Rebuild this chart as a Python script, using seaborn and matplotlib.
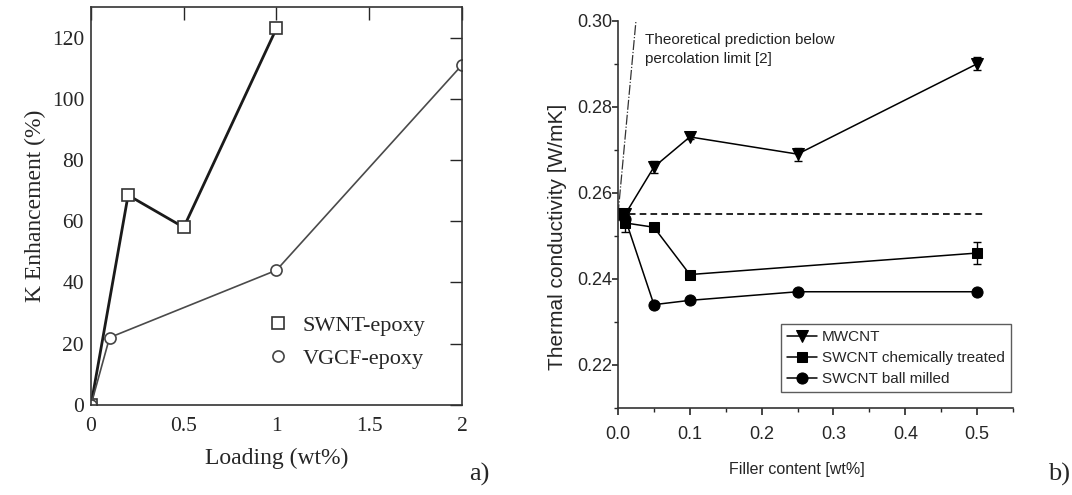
import numpy as np
import matplotlib
matplotlib.use("Agg")
import matplotlib.pyplot as plt
from matplotlib.lines import Line2D
from matplotlib.ticker import MultipleLocator
import seaborn as sns

# panel a) K enhancement vs loading
swnt_x = [0, 0.2, 0.5, 1.0]
swnt_y = [0, 68.5, 58, 123]
vgcf_x = [0, 0.1, 1.0, 2.0]
vgcf_y = [0, 22, 44, 111]

# panel b) thermal conductivity vs filler content
mw_x = [0, 0.01, 0.05, 0.1, 0.25, 0.5]
mw_y = [0.255, 0.255, 0.266, 0.273, 0.269, 0.290]
mw_err = [0, 0.0008, 0.0015, 0.0005, 0.0015, 0.0015]
chem_x = [0, 0.01, 0.05, 0.1, 0.5]
chem_y = [0.255, 0.253, 0.252, 0.241, 0.246]
chem_err = [0, 0.002, 0.0005, 0.0005, 0.0025]
ball_x = [0, 0.01, 0.05, 0.1, 0.25, 0.5]
ball_y = [0.255, 0.254, 0.234, 0.235, 0.237, 0.237]
base_k = 0.255
base_x = [0, 0.512]
theory_x = [0, 0.025]
theory_y = [0.255, 0.30]

sns.set_style("white")
serif = ["Liberation Serif", "DejaVu Serif"]
sans = ["Liberation Sans", "DejaVu Sans"]

fig = plt.figure(figsize=(10.72, 4.95), dpi=100)
ax1 = fig.add_axes([0.0849, 0.182, 0.346, 0.804])
ax2 = fig.add_axes([0.5765, 0.176, 0.3685, 0.782])

# ---- panel a
sns.lineplot(x=swnt_x, y=swnt_y, ax=ax1, sort=False, estimator=None, color="#1a1a1a",
             lw=2.0, marker="s", ms=8, mfc="white", mec="#333333", mew=1.2)
sns.lineplot(x=vgcf_x, y=vgcf_y, ax=ax1, sort=False, estimator=None, color="#4a4a4a",
             lw=1.2, marker="o", ms=8, mfc="white", mec="#444444", mew=1.2)
ax1.set_xlim(0, 2)
ax1.set_ylim(0, 130)
ax1.set_xticks([0, 0.5, 1, 1.5, 2])
ax1.set_xticklabels(["0", "0.5", "1", "1.5", "2"])
ax1.set_yticks(range(0, 121, 20))
ax1.tick_params(direction="in", length=9, width=1, top=True, right=True,
                labelsize=15.5, pad=5)
ax1.tick_params(axis="x", pad=9)
for lab in ax1.get_xticklabels() + ax1.get_yticklabels():
    lab.set_family(serif)
for s in ax1.spines.values():
    s.set_color("#333333")
    s.set_linewidth(1.2)
ax1.set_xlabel("Loading (wt%)", family=serif, fontsize=17, labelpad=8)
ax1.set_ylabel("K Enhancement (%)", family=serif, fontsize=17, labelpad=4)
h1 = [Line2D([], [], ls="none", marker="s", ms=8, mfc="white", mec="#333333", mew=1.2),
      Line2D([], [], ls="none", marker="o", ms=8, mfc="white", mec="#444444", mew=1.2)]
ax1.legend(h1, ["SWNT-epoxy", "VGCF-epoxy"], loc="lower left", bbox_to_anchor=(0.42, 0.04),
           frameon=False, prop={"family": serif, "size": 16}, handlelength=1.0,
           handletextpad=0.6, labelspacing=0.55)

# ---- panel b
ax2.plot(theory_x, theory_y, color="#333333", lw=0.9, ls=(0, (8, 1.5, 1, 1.5)))
ax2.plot(base_x, [base_k, base_k], color="black", lw=1.2, ls=(0, (4, 2.5)))
ax2.errorbar(mw_x, mw_y, yerr=mw_err, fmt="none", ecolor="black", elinewidth=1, capsize=3)
ax2.errorbar(chem_x, chem_y, yerr=chem_err, fmt="none", ecolor="black", elinewidth=1, capsize=3)
sns.lineplot(x=mw_x, y=mw_y, ax=ax2, sort=False, estimator=None, color="black", lw=1.1,
             marker="v", ms=9, mfc="black", mec="black", label="MWCNT")
sns.lineplot(x=chem_x, y=chem_y, ax=ax2, sort=False, estimator=None, color="black", lw=1.1,
             marker="s", ms=7, mfc="black", mec="black", label="SWCNT chemically treated")
sns.lineplot(x=ball_x, y=ball_y, ax=ax2, sort=False, estimator=None, color="black", lw=1.1,
             marker="o", ms=8, mfc="black", mec="black", label="SWCNT ball milled")
ax2.set_xlim(0, 0.55)
ax2.set_ylim(0.21, 0.30)
ax2.set_xticks(np.arange(0, 0.51, 0.1))
ax2.set_xticklabels(["0.0", "0.1", "0.2", "0.3", "0.4", "0.5"])
ax2.set_yticks([0.22, 0.24, 0.26, 0.28, 0.30])
ax2.set_yticklabels(["0.22", "0.24", "0.26", "0.28", "0.30"])
ax2.xaxis.set_minor_locator(MultipleLocator(0.05))
ax2.yaxis.set_minor_locator(MultipleLocator(0.01))
sns.despine(ax=ax2)
for s in ax2.spines.values():
    s.set_color("#333333")
    s.set_linewidth(1.2)
ax2.tick_params(axis="both", which="major", direction="out", length=5, width=1.2,
                labelsize=13, bottom=True, left=True)
ax2.tick_params(axis="y", length=4, pad=0)
ax2.tick_params(axis="x", pad=8)
ax2.tick_params(axis="both", which="minor", direction="out", length=3, width=1,
                bottom=True, left=True)
for lab in ax2.get_xticklabels() + ax2.get_yticklabels():
    lab.set_family(sans)
ax2.set_xlabel("Filler content [wt%]", family=sans, fontsize=11.5)
ax2.xaxis.set_label_coords(0.453, -0.14)
ax2.set_ylabel("Thermal conductivity [W/mK]", family=sans, fontsize=15)
ax2.yaxis.set_label_coords(-0.128, 0.442)
ax2.text(0.037, 0.2972, "Theoretical prediction below\npercolation limit [2]",
         family=sans, fontsize=11, va="top", ha="left", color="#222222", linespacing=1.45)
leg = ax2.legend(loc="lower right", bbox_to_anchor=(0.995, 0.041), frameon=True, fancybox=False,
                 prop={"family": sans, "size": 11}, handlelength=2.0, handletextpad=0.3,
                 labelspacing=0.45, borderpad=0.4, borderaxespad=0)
leg.get_frame().set_edgecolor("#333333")
leg.get_frame().set_linewidth(1.0)

fig.text(0.438, 0.03, "a)", family=serif, fontsize=19)
fig.text(0.978, 0.03, "b)", family=serif, fontsize=19)

fig.savefig("out.png", dpi=100)
